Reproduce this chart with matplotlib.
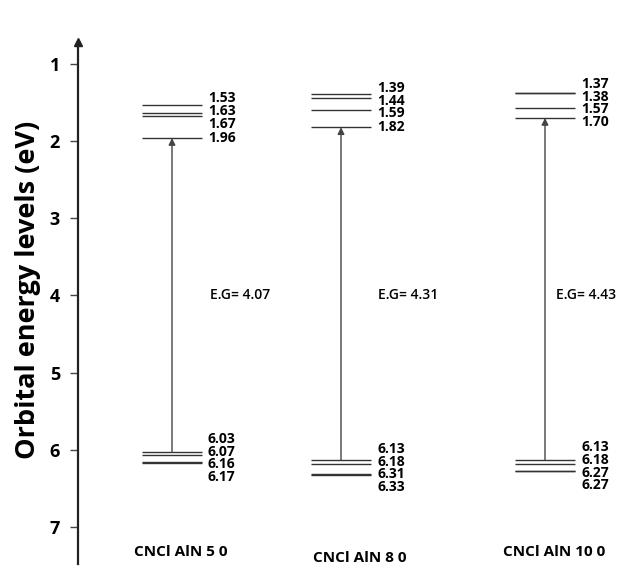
import matplotlib
matplotlib.use('Agg')
import matplotlib.pyplot as plt

# energy levels (eV), one list per system
categories = ['CNCl AlN 5 0', 'CNCl AlN 8 0', 'CNCl AlN 10 0']
lumo_levels = [
    [1.53, 1.63, 1.67, 1.96],
    [1.39, 1.44, 1.59, 1.82],
    [1.37, 1.38, 1.57, 1.70],
]
homo_levels = [
    [6.03, 6.07, 6.16, 6.17],
    [6.13, 6.18, 6.31, 6.33],
    [6.13, 6.18, 6.27, 6.27],
]
energy_gaps = [4.07, 4.31, 4.43]
y_ticks = [1, 2, 3, 4, 5, 6, 7]

# layout, in figure pixels (x axis runs in pixels)
W, H = 619, 568
GROUP_X = [172, 341, 545]
HALF_W = 30
EG_DX = [38, 37, 11]
CAT_DX = [9, 19, 9]
CAT_Y = [7.33, 7.40, 7.33]
LABEL_GAP = 0.165

plt.rcParams['font.family'] = ['Open Sans', 'DejaVu Sans']


def spread(vals, gap):
    # push label positions apart so they do not overlap
    vals = sorted(vals)
    clusters = [[v] for v in vals]
    merged = True
    while merged:
        merged = False
        for i in range(len(clusters) - 1):
            a, b = clusters[i], clusters[i + 1]
            a_end = sum(a) / len(a) + (len(a) - 1) * gap / 2
            b_start = sum(b) / len(b) - (len(b) - 1) * gap / 2
            if b_start - a_end < gap:
                clusters[i] = a + b
                del clusters[i + 1]
                merged = True
                break
    out = []
    for c in clusters:
        start = sum(c) / len(c) - (len(c) - 1) * gap / 2
        out += [start + k * gap for k in range(len(c))]
    return vals, out


fig = plt.figure(figsize=(W / 100, H / 100), dpi=100)
ax = fig.add_axes([78 / W, 4 / H, 1 - 78 / W, 522 / H])
ax.set_xlim(78, W)
ax.set_ylim(7.48, 0.715)

for side in ('top', 'right', 'bottom'):
    ax.spines[side].set_visible(False)
ax.spines['left'].set_linewidth(1.6)
ax.spines['left'].set_color('#222222')
ax.set_xticks([])
ax.set_yticks(y_ticks)
ax.set_yticklabels([str(t) for t in y_ticks], fontsize=13, fontweight='bold')
ax.tick_params(axis='y', length=6, width=1, pad=7, color='#444444')
ax.plot([0], [1], marker='^', color='#222222', ms=6, transform=ax.transAxes,
        clip_on=False)

for i, cx in enumerate(GROUP_X):
    for levels in (lumo_levels[i], homo_levels[i]):
        ax.hlines(levels, cx - HALF_W, cx + HALF_W, color='#333333', lw=1)
        vals, pos = spread(levels, LABEL_GAP)
        for v, p in zip(vals, pos):
            ax.text(cx + HALF_W + 6, p, f'{v:.2f}', va='center', ha='left',
                    fontsize=10, fontweight='bold')
    ax.annotate('', xy=(cx, max(lumo_levels[i])), xytext=(cx, min(homo_levels[i])),
                arrowprops=dict(arrowstyle='-|>', color='#444444', lw=1,
                                shrinkA=0, shrinkB=0, mutation_scale=10))
    ax.text(cx + EG_DX[i], 4.0, f'E.G= {energy_gaps[i]:.2f}', va='center',
            ha='left', fontsize=10, fontweight='semibold')
    ax.text(cx + CAT_DX[i], CAT_Y[i], categories[i], ha='center', va='center',
            fontsize=11, fontweight='bold', clip_on=False)

fig.text(28 / W, 1 - 290 / H, 'Orbital energy levels (eV)', rotation=90,
         ha='center', va='center', fontsize=19.5, fontweight='bold')

fig.savefig('out.png', dpi=100)
